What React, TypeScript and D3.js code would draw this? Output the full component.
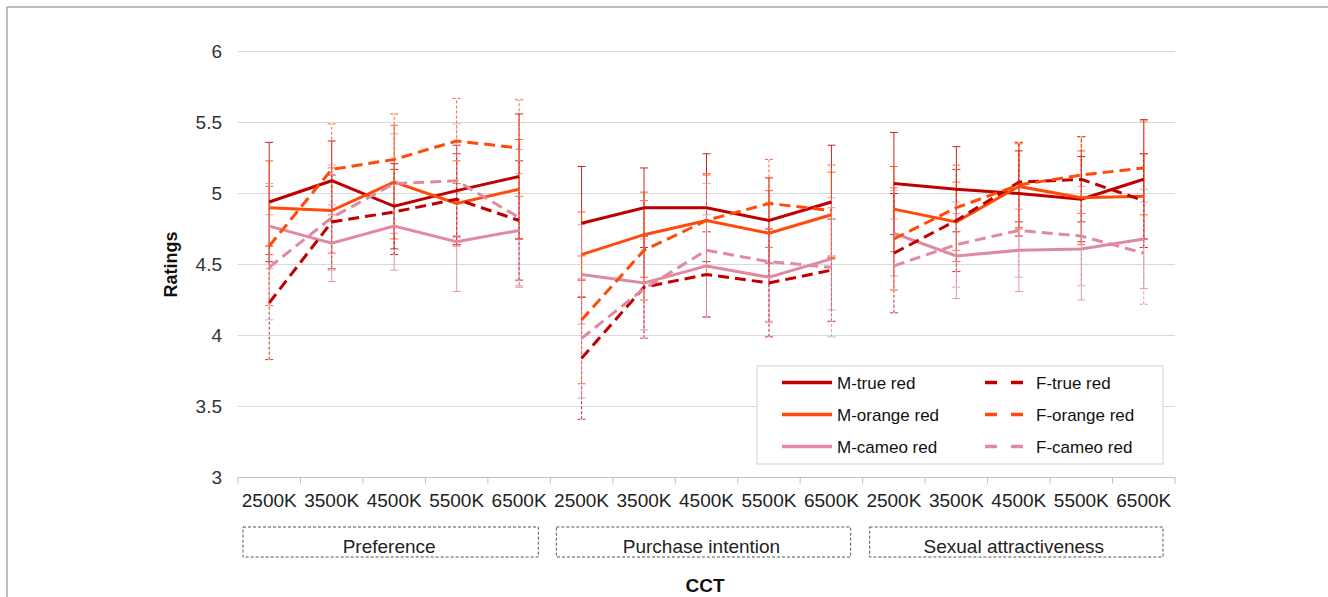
import React from 'react';
import * as d3 from 'd3';

const groups = ['Preference', 'Purchase intention', 'Sexual attractiveness'];
const ccts = ['2500K', '3500K', '4500K', '5500K', '6500K'];
const yTicks = [3, 3.5, 4, 4.5, 5, 5.5, 6];

// values: 5 per group, groups in order Preference / Purchase / Sexual
const mTrueRed = [4.94, 5.09, 4.91, 5.02, 5.12, 4.79, 4.9, 4.9, 4.81, 4.94, 5.07, 5.03, 5.0, 4.96, 5.1];
const mOrangeRed = [4.9, 4.88, 5.08, 4.93, 5.03, 4.57, 4.71, 4.81, 4.72, 4.85, 4.89, 4.8, 5.05, 4.97, 4.98];
const mCameoRed = [4.77, 4.65, 4.77, 4.66, 4.74, 4.43, 4.37, 4.49, 4.41, 4.54, 4.72, 4.56, 4.6, 4.61, 4.68];
const fTrueRed = [4.23, 4.8, 4.87, 4.96, 4.81, 3.84, 4.34, 4.43, 4.37, 4.46, 4.58, 4.81, 5.08, 5.1, 4.95];
const fOrangeRed = [4.63, 5.17, 5.24, 5.37, 5.32, 4.11, 4.6, 4.81, 4.93, 4.88, 4.68, 4.9, 5.06, 5.13, 5.18];
const fCameoRed = [4.48, 4.83, 5.07, 5.09, 4.83, 3.98, 4.33, 4.6, 4.52, 4.48, 4.49, 4.64, 4.74, 4.7, 4.58];

// error bar half-lengths
const mTrueErr = [0.42, 0.28, 0.3, 0.32, 0.44, 0.4, 0.28, 0.38, 0.3, 0.4, 0.36, 0.3, 0.3, 0.3, 0.42];
const mOrangeErr = [0.33, 0.3, 0.4, 0.3, 0.35, 0.3, 0.3, 0.32, 0.3, 0.3, 0.3, 0.28, 0.3, 0.33, 0.3];
const mCameoErr = [0.3, 0.27, 0.31, 0.35, 0.4, 0.35, 0.33, 0.36, 0.32, 0.36, 0.3, 0.3, 0.29, 0.36, 0.35];
const fTrueErr = [0.4, 0.33, 0.3, 0.32, 0.42, 0.43, 0.36, 0.3, 0.38, 0.36, 0.42, 0.36, 0.28, 0.3, 0.33];
const fOrangeErr = [0.42, 0.32, 0.32, 0.3, 0.34, 0.45, 0.35, 0.33, 0.31, 0.32, 0.36, 0.3, 0.3, 0.27, 0.33];
const fCameoErr = [0.37, 0.37, 0.35, 0.4, 0.48, 0.42, 0.35, 0.47, 0.42, 0.49, 0.33, 0.3, 0.33, 0.35, 0.36];

const TRUE = '#c00000';
const ORANGE = '#ff4a0a';
const CAMEO = '#e08aa2';

const series = [
  { name: 'M-true red', values: mTrueRed, err: mTrueErr, color: TRUE, dashed: false },
  { name: 'M-orange red', values: mOrangeRed, err: mOrangeErr, color: ORANGE, dashed: false },
  { name: 'M-cameo red', values: mCameoRed, err: mCameoErr, color: CAMEO, dashed: false },
  { name: 'F-true red', values: fTrueRed, err: fTrueErr, color: TRUE, dashed: true },
  { name: 'F-orange red', values: fOrangeRed, err: fOrangeErr, color: ORANGE, dashed: true },
  { name: 'F-cameo red', values: fCameoRed, err: fCameoErr, color: CAMEO, dashed: true },
];

const font = '"Liberation Sans", Arial, sans-serif';

export default function App() {
  const keys = groups.flatMap((g) => ccts.map((c) => g + '|' + c));
  const x = d3.scaleBand().domain(keys).range([238, 1175]).padding(0);
  const bw = x.bandwidth();
  const cx = (i: number) => (x(keys[i]) as number) + bw / 2;
  const y = d3.scaleLinear().domain([3, 6]).range([477.5, 51.5]);

  const line = d3
    .line<{ i: number; v: number }>()
    .x((d) => cx(d.i))
    .y((d) => y(d.v));

  const groupSpan = (gi: number) => [x(keys[gi * 5]) as number, (x(keys[gi * 5 + 4]) as number) + bw];

  return (
    <svg width={1328} height={597} style={{ position: 'absolute', left: 0, top: 0, background: '#fff' }} fontFamily={font}>
      {/* frame */}
      <line x1={7} y1={7} x2={1328} y2={7} stroke="#a8a8a8" strokeWidth={1.5} />
      <line x1={7} y1={7} x2={7} y2={597} stroke="#a8a8a8" strokeWidth={1.5} />

      {/* gridlines */}
      {yTicks.map((t) => (
        <g key={t}>
          {t > 3 && <line x1={238} x2={1175} y1={y(t)} y2={y(t)} stroke="#d9d9d9" strokeWidth={1.2} />}
          <text x={222} y={y(t) + 6.5} textAnchor="end" fontSize={19} fill="#333">
            {t}
          </text>
        </g>
      ))}

      {/* x axis */}
      <line x1={238} x2={1175} y1={y(3)} y2={y(3)} stroke="#bfbfbf" strokeWidth={1.2} />
      {keys.map((k) => (
        <line key={'t' + k} x1={x(k)} x2={x(k)} y1={y(3)} y2={y(3) + 6} stroke="#bfbfbf" />
      ))}
      <line x1={1175} x2={1175} y1={y(3)} y2={y(3) + 6} stroke="#bfbfbf" />
      {keys.map((k, i) => (
        <text key={'l' + k} x={cx(i)} y={507} textAnchor="middle" fontSize={19} fill="#222">
          {ccts[i % 5]}
        </text>
      ))}

      {/* group boxes */}
      {groups.map((g, gi) => {
        const [a, b] = groupSpan(gi);
        return (
          <g key={g}>
            <rect x={a + 5 + gi} y={527} width={b - a - 17 - gi} height={30} fill="none" stroke="#555" strokeDasharray="3,2" />
            <text x={(a + b) / 2 - 5} y={553} textAnchor="middle" fontSize={19} fill="#222">
              {g}
            </text>
          </g>
        );
      })}

      {/* axis titles */}
      <text x={705} y={592} textAnchor="middle" fontSize={19} fontWeight="bold" fill="#111">
        CCT
      </text>
      <text transform={`translate(177,${y(4.5)}) rotate(-90)`} textAnchor="middle" fontSize={18} fontWeight="bold" fill="#111">
        Ratings
      </text>

      {/* error bars */}
      {series.map((s) =>
        s.values.map((v, i) => {
          const e = s.err[i];
          const px = cx(i);
          return (
            <g key={s.name + 'e' + i} stroke={s.color} strokeOpacity={0.85} strokeWidth={1} strokeDasharray={s.dashed ? '3,2' : undefined}>
              <line x1={px} x2={px} y1={y(v - e)} y2={y(v + e)} />
              <line x1={px - 4} x2={px + 4} y1={y(v - e)} y2={y(v - e)} />
              <line x1={px - 4} x2={px + 4} y1={y(v + e)} y2={y(v + e)} />
            </g>
          );
        })
      )}

      {/* lines, one path per group */}
      {series.map((s) =>
        groups.map((g, gi) => {
          const pts = d3.range(gi * 5, gi * 5 + 5).map((i) => ({ i, v: s.values[i] }));
          return (
            <path
              key={s.name + g}
              d={line(pts) || ''}
              fill="none"
              stroke={s.color}
              strokeWidth={3}
              strokeDasharray={s.dashed ? '11,6' : undefined}
            />
          );
        })
      )}

      {/* legend */}
      <rect x={757} y={366} width={406} height={98} fill="#fff" stroke="#d9d9d9" strokeWidth={1.2} />
      {series.map((s, i) => {
        const col = s.dashed ? 1 : 0;
        const row = i % 3;
        const ly = 382.5 + row * 32;
        const lx = col ? 985 : 782;
        return (
          <g key={'lg' + s.name}>
            <line x1={lx} x2={lx + (col ? 38 : 50)} y1={ly} y2={ly} stroke={s.color} strokeWidth={3.5} strokeDasharray={s.dashed ? '12,14' : undefined} />
            <text x={col ? 1036 : 837} y={ly + 6} fontSize={17} fill="#111">
              {s.name}
            </text>
          </g>
        );
      })}
    </svg>
  );
}
